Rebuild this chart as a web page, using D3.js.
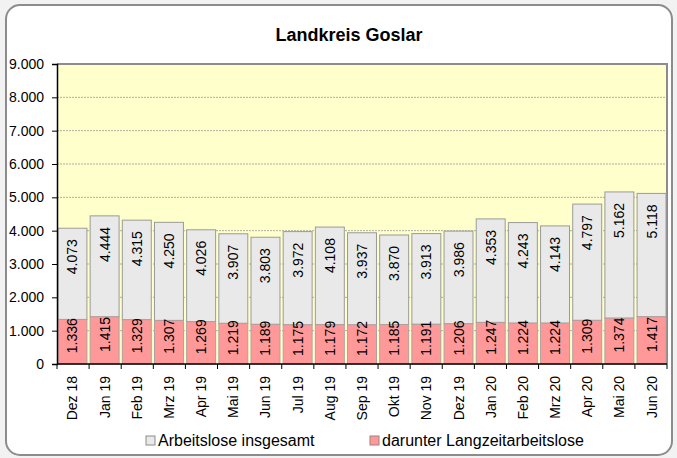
<!DOCTYPE html>
<html>
<head>
<meta charset="utf-8">
<script src="https://cdn.jsdelivr.net/npm/d3@7"></script>
<style>
  html, body { margin: 0; padding: 0; background: #f2f2f2; }
  svg { display: block; font-family: Arial, 'Liberation Sans', sans-serif; }
</style>
</head>
<body>
<svg></svg>
<script>
const months = ['Dez 18', 'Jan 19', 'Feb 19', 'Mrz 19', 'Apr 19', 'Mai 19', 'Jun 19', 'Jul 19', 'Aug 19', 'Sep 19',
  'Okt 19', 'Nov 19', 'Dez 19', 'Jan 20', 'Feb 20', 'Mrz 20', 'Apr 20', 'Mai 20', 'Jun 20'];
const insgesamt = [4073, 4444, 4315, 4250, 4026, 3907, 3803, 3972, 4108, 3937,
  3870, 3913, 3986, 4353, 4243, 4143, 4797, 5162, 5118];
const langzeit = [1336, 1415, 1329, 1307, 1269, 1219, 1189, 1175, 1179, 1172,
  1185, 1191, 1206, 1247, 1224, 1224, 1309, 1374, 1417];
const yTicks = [0, 1000, 2000, 3000, 4000, 5000, 6000, 7000, 8000, 9000];
const legendLabels = ['Arbeitslose insgesamt', 'darunter Langzeitarbeitslose'];

const width = 677;
const height = 458;
const margin = { left: 57, top: 64, right: 10, bottom: 94 };
const innerWidth = width - margin.left - margin.right;
const innerHeight = height - margin.top - margin.bottom;

const fmt = (v) => d3.format(',')(v).replace(/,/g, '.');

const svg = d3.select('svg').attr('width', width).attr('height', height);

// outer frame
svg.append('rect')
  .attr('x', 6).attr('y', 5)
  .attr('width', 666).attr('height', 450)
  .attr('rx', 14)
  .attr('fill', '#fff')
  .attr('stroke', '#8c8c8c')
  .attr('stroke-width', 2);

svg.append('text')
  .attr('x', 349).attr('y', 41)
  .attr('text-anchor', 'middle')
  .style('font-size', '18px')
  .style('font-weight', 'bold')
  .text('Landkreis Goslar');

const g = svg.append('g').attr('transform', `translate(${margin.left}, ${margin.top})`);

const x = d3.scaleBand().domain(months).range([0, innerWidth]).paddingInner(0.1).paddingOuter(0.03);
const y = d3.scaleLinear().domain([0, 9000]).range([innerHeight, 0]);

g.append('rect')
  .attr('width', innerWidth).attr('height', innerHeight)
  .attr('fill', '#ffffcc');

// gridlines
g.append('g')
  .selectAll('line')
  .data(yTicks.slice(1, -1))
  .enter()
  .append('line')
  .attr('x1', 0).attr('x2', innerWidth)
  .attr('y1', (d) => y(d)).attr('y2', (d) => y(d))
  .attr('stroke', '#8c8c8c')
  .attr('stroke-width', 0.7)
  .attr('stroke-dasharray', '2,1');

// top/right border
g.append('path')
  .attr('d', `M0,0H${innerWidth}V${innerHeight}`)
  .attr('fill', 'none')
  .attr('stroke', '#8c8c8c')
  .attr('stroke-width', 2);

const rows = months.map((m, i) => ({ m, total: insgesamt[i], lz: langzeit[i] }));

const bars = g.append('g').selectAll('g').data(rows).enter().append('g');

bars.append('rect')
  .attr('x', (d) => x(d.m))
  .attr('width', x.bandwidth())
  .attr('y', (d) => y(d.total))
  .attr('height', (d) => y(d.lz) - y(d.total))
  .attr('fill', '#e9e9e9')
  .attr('stroke', '#9a9a9a');

bars.append('rect')
  .attr('x', (d) => x(d.m))
  .attr('width', x.bandwidth())
  .attr('y', (d) => y(d.lz))
  .attr('height', (d) => innerHeight - y(d.lz))
  .attr('fill', '#ff9999')
  .attr('stroke', '#b0a0a0');

bars.append('text')
  .attr('transform', (d) => `translate(${x(d.m) + x.bandwidth() / 2 + 5}, ${y(d.total) + 11}) rotate(-90)`)
  .attr('text-anchor', 'end')
  .style('font-size', '14px')
  .text((d) => fmt(d.total));

bars.append('text')
  .attr('transform', (d) => `translate(${x(d.m) + x.bandwidth() / 2 + 5}, ${y(d.lz / 2) - 6}) rotate(-90)`)
  .attr('text-anchor', 'middle')
  .style('font-size', '14px')
  .text((d) => fmt(d.lz));

// y axis
const yAxis = g.append('g')
  .call(d3.axisLeft(y).tickValues(yTicks).tickSize(5).tickPadding(8).tickFormat(fmt));
yAxis.select('.domain').attr('stroke', '#000').attr('stroke-width', 1.5);
yAxis.selectAll('text').style('font-size', '14px').style('font-family', 'Arial, Liberation Sans, sans-serif');

// x axis
const xAxisG = g.append('g').attr('transform', `translate(0, ${innerHeight})`);
xAxisG.append('line').attr('x1', 0).attr('x2', innerWidth).attr('stroke', '#000').attr('stroke-width', 1.5);
xAxisG.selectAll('line.tick')
  .data(d3.range(months.length + 1))
  .enter()
  .append('line')
  .attr('class', 'tick')
  .attr('x1', (i) => i * innerWidth / months.length)
  .attr('x2', (i) => i * innerWidth / months.length)
  .attr('y1', 0).attr('y2', 5)
  .attr('stroke', '#000');
xAxisG.selectAll('text')
  .data(months)
  .enter()
  .append('text')
  .attr('transform', (d) => `translate(${x(d) + x.bandwidth() / 2 + 5}, 12) rotate(-90)`)
  .attr('text-anchor', 'end')
  .style('font-size', '14px')
  .text((d) => d);

// legend
const legend = svg.append('g').attr('transform', 'translate(0, 446)');
const legendItems = [
  { label: legendLabels[0], fill: '#e9e9e9', stroke: '#8c8c8c', x: 146 },
  { label: legendLabels[1], fill: '#ff9999', stroke: '#a08080', x: 370 },
];
legendItems.forEach((d) => {
  legend.append('rect')
    .attr('x', d.x).attr('y', -10)
    .attr('width', 9).attr('height', 9)
    .attr('fill', d.fill).attr('stroke', d.stroke);
  legend.append('text')
    .attr('x', d.x + 12).attr('y', 0)
    .style('font-size', '16px')
    .text(d.label);
});
</script>
</body>
</html>
